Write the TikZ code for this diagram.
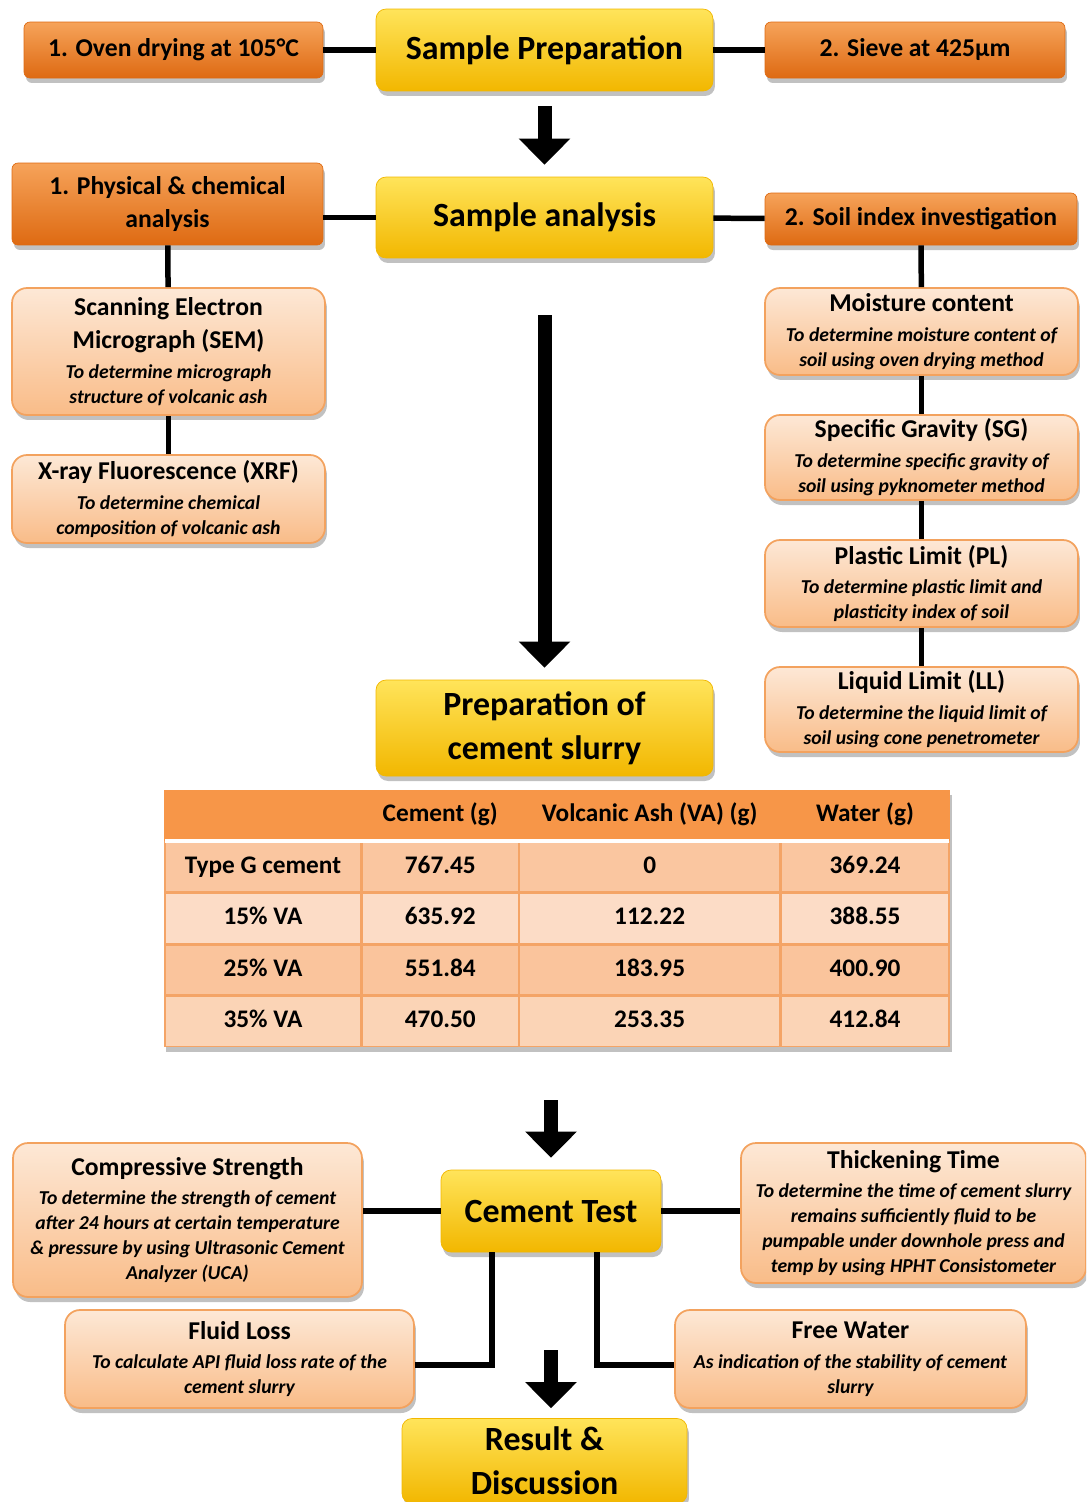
\documentclass[tikz,border=0pt]{standalone}
\usepackage{fontspec}
\setmainfont{Carlito}
\usetikzlibrary{matrix, arrows.meta, shadows}

\definecolor{yelTop}{HTML}{FFE45A}
\definecolor{yelMid}{HTML}{FFCC00}
\definecolor{yelBot}{HTML}{F2B700}
\definecolor{orgTop}{HTML}{F6A35A}
\definecolor{orgMid}{HTML}{F08830}
\definecolor{orgBot}{HTML}{DE6A12}
\definecolor{pchTop}{HTML}{FDE8D6}
\definecolor{pchBot}{HTML}{F9BC88}
\definecolor{pchLine}{HTML}{F3A25E}
\definecolor{hdr}{HTML}{F79648}
\definecolor{rowA}{HTML}{FAC6A0}
\definecolor{rowB}{HTML}{FCDCC6}
\definecolor{rowC}{HTML}{FAC49C}
\definecolor{rowD}{HTML}{FBD4B6}
\definecolor{grid}{HTML}{F4A466}

\newcommand{\desc}[1]{{\itshape\fontsize{11.2}{14.2}\selectfont #1}}

\begin{document}
\begin{tikzpicture}[x=0.02cm, y=-0.02cm, font=\bfseries,
    shade box/.style={drop shadow={shadow xshift=0.04cm, shadow yshift=-0.1cm,
        opacity=0.35, fill=black!70}},
    mainbox/.style={shade box, rounded corners=0.2cm, draw=yelBot,
        top color=yelTop, middle color=yelMid, bottom color=yelBot,
        align=center, inner sep=0pt, minimum width=6.74cm,
        font=\bfseries\fontsize{19.3}{25}\selectfont},
    stepbox/.style={shade box, rounded corners=0.12cm, draw=orgBot,
        top color=orgTop, middle color=orgMid, bottom color=orgBot,
        align=center, inner sep=0pt,
        font=\bfseries\fontsize{14.6}{18.7}\selectfont},
    infobox/.style={shade box, rounded corners=0.3cm, draw=pchLine, line width=1pt,
        top color=pchTop, bottom color=pchBot,
        align=center, inner sep=0pt,
        font=\bfseries\fontsize{14.6}{14.2}\selectfont},
    link/.style={line width=0.11cm},
    bigarrow/.style={line width=0.28cm, -{Triangle[width=1cm, length=0.52cm]}},
    cell/.style={minimum height=1cm, inner sep=0pt, outer sep=0pt,
        draw=grid, line width=0.8pt, text height=10pt, text depth=3pt,
        font=\bfseries\fontsize{14.4}{17}\selectfont}]

    \useasboundingbox (0,0) rectangle (1086,1502);
    \clip (0,0) rectangle (1086,1502);

    % Sample preparation
    \node[mainbox, minimum height=1.64cm] (prep) at (544.5,50) {Sample Preparation};
    \node[stepbox, minimum width=5.98cm, minimum height=1.12cm] (oven) at (173.5,50)
        {1. Oven drying at 105°C};
    \node[stepbox, minimum width=6cm, minimum height=1.12cm] (sieve) at (915,50)
        {2. Sieve at 425µm};

    % Sample analysis
    \node[mainbox, minimum height=1.62cm] (analysis) at (544.5,217.5) {Sample analysis};
    \node[stepbox, minimum width=6.22cm, minimum height=1.64cm] (phys) at (167.5,204)
        {1. Physical \& chemical\\analysis};
    \node[stepbox, minimum width=6.24cm, minimum height=1.04cm] (soil) at (921,219)
        {2. Soil index investigation};

    % Physical & chemical tests
    \node[infobox, minimum width=6.26cm, minimum height=2.54cm] (sem) at (168.5,351.5)
        {Scanning Electron\\[4.5pt]Micrograph (SEM)\\[2.8pt]\desc{To determine micrograph}\\
        \desc{structure of volcanic ash}};
    \node[infobox, minimum width=6.26cm, minimum height=1.76cm] (xrf) at (168.5,499)
        {X-ray Fluorescence (XRF)\\[2.8pt]\desc{To determine chemical}\\
        \desc{composition of volcanic ash}};

    % Soil index tests
    \node[infobox, minimum width=6.26cm, minimum height=1.74cm] (moist) at (921.5,331.5)
        {Moisture content\\[2.8pt]\desc{To determine moisture content of}\\
        \desc{soil using oven drying method}};
    \node[infobox, minimum width=6.26cm, minimum height=1.7cm] (sg) at (921.5,457.5)
        {Specific Gravity (SG)\\[2.8pt]\desc{To determine specific gravity of}\\
        \desc{soil using pyknometer method}};
    \node[infobox, minimum width=6.26cm, minimum height=1.74cm] (pl) at (921.5,583.5)
        {Plastic Limit (PL)\\[2.8pt]\desc{To determine plastic limit and}\\
        \desc{plasticity index of soil}};
    \node[infobox, minimum width=6.26cm, minimum height=1.7cm] (ll) at (921.5,709.5)
        {Liquid Limit (LL)\\[2.8pt]\desc{To determine the liquid limit of}\\
        \desc{soil using cone penetrometer}};

    % Slurry preparation and mix table
    \node[mainbox, minimum height=1.92cm] (slurry) at (544.5,728)
        {Preparation of\\cement slurry};

    \matrix (mix) at (557,918.5) [matrix of nodes, nodes in empty cells,
        row sep=0pt, column sep=0pt, inner sep=0pt, fill=white, shade box,
        nodes={cell},
        column 1/.style={nodes={minimum width=3.92cm}},
        column 2/.style={nodes={minimum width=3.12cm}},
        column 3/.style={nodes={minimum width=5.2cm}},
        column 4/.style={nodes={minimum width=3.36cm}},
        row 1/.style={nodes={fill=hdr, draw=hdr}},
        row 2/.style={nodes={fill=rowA}},
        row 3/.style={nodes={fill=rowB}},
        row 4/.style={nodes={fill=rowC}},
        row 5/.style={nodes={fill=rowD}}]
    {
        & Cement (g) & Volcanic Ash (VA) (g) & Water (g) \\
        Type G cement & 767.45 & 0 & 369.24 \\
        15\% VA & 635.92 & 112.22 & 388.55 \\
        25\% VA & 551.84 & 183.95 & 400.90 \\
        35\% VA & 470.50 & 253.35 & 412.84 \\
    };
    \draw[white, line width=0.08cm] (mix-1-1.south west) -- (mix-1-4.south east);

    % Cement tests
    \node[mainbox, minimum width=4.4cm, minimum height=1.64cm] (ctest) at (551,1211)
        {Cement Test};
    \node[infobox, minimum width=6.98cm, minimum height=3.08cm] (comp) at (187.5,1220)
        {Compressive Strength\\[2.8pt]\desc{To determine the strength of cement}\\
        \desc{after 24 hours at certain temperature}\\
        \desc{\& pressure by using Ultrasonic Cement}\\
        \desc{Analyzer (UCA)}};
    \node[infobox, minimum width=6.9cm, minimum height=2.8cm] (thick) at (913.5,1213)
        {Thickening Time\\[2.8pt]\desc{To determine the time of cement slurry}\\
        \desc{remains sufficiently fluid to be}\\
        \desc{pumpable under downhole press and}\\
        \desc{temp by using HPHT Consistometer}};
    \node[infobox, minimum width=6.98cm, minimum height=1.96cm] (fluid) at (239.5,1359)
        {Fluid Loss\\[2.8pt]\desc{To calculate API fluid loss rate of the}\\
        \desc{cement slurry}};
    \node[infobox, minimum width=7.02cm, minimum height=1.96cm] (free) at (850.5,1359)
        {Free Water\\[2.8pt]\desc{As indication of the stability of cement}\\
        \desc{slurry}};

    % Result
    \node[mainbox, minimum width=5.7cm, minimum height=1.7cm] (result) at (544.5,1461)
        {Result \&\\Discussion};

    % Connector(s)
    \draw[link] (oven) -- (prep);
    \draw[link] (prep) -- (sieve);
    \draw[link] (analysis.west) -- (analysis.west -| phys.east);
    \draw[link] (analysis) -- (soil);
    \draw[link] (phys) -- (sem);
    \draw[link] (sem) -- (xrf);
    \draw[link] (soil) -- (moist);
    \draw[link] (moist) -- (sg);
    \draw[link] (sg) -- (pl);
    \draw[link] (pl) -- (ll);
    \draw[link] (ctest.west) -- (ctest.west -| comp.east);
    \draw[link] (ctest.east) -- (ctest.east -| thick.west);
    \draw[link] ([xshift=-1.18cm]ctest.south) |- ([yshift=-0.12cm]fluid.east);
    \draw[link] ([xshift=0.92cm]ctest.south) |- ([yshift=-0.12cm]free.west);

    % Flow arrow(s)
    \draw[bigarrow, shorten <=0.3cm, shorten >=0.24cm] (prep) -- (analysis);
    \draw[bigarrow, shorten <=1.14cm, shorten >=0.24cm] (analysis) -- (slurry);
    \draw[bigarrow, shorten <=1.06cm, shorten >=0.24cm] (ctest |- mix.south) -- (ctest);
    \draw[bigarrow, shorten <=1.96cm, shorten >=0.2cm] (ctest.south) -- (ctest.south |- result.north);

\end{tikzpicture}
\end{document}
